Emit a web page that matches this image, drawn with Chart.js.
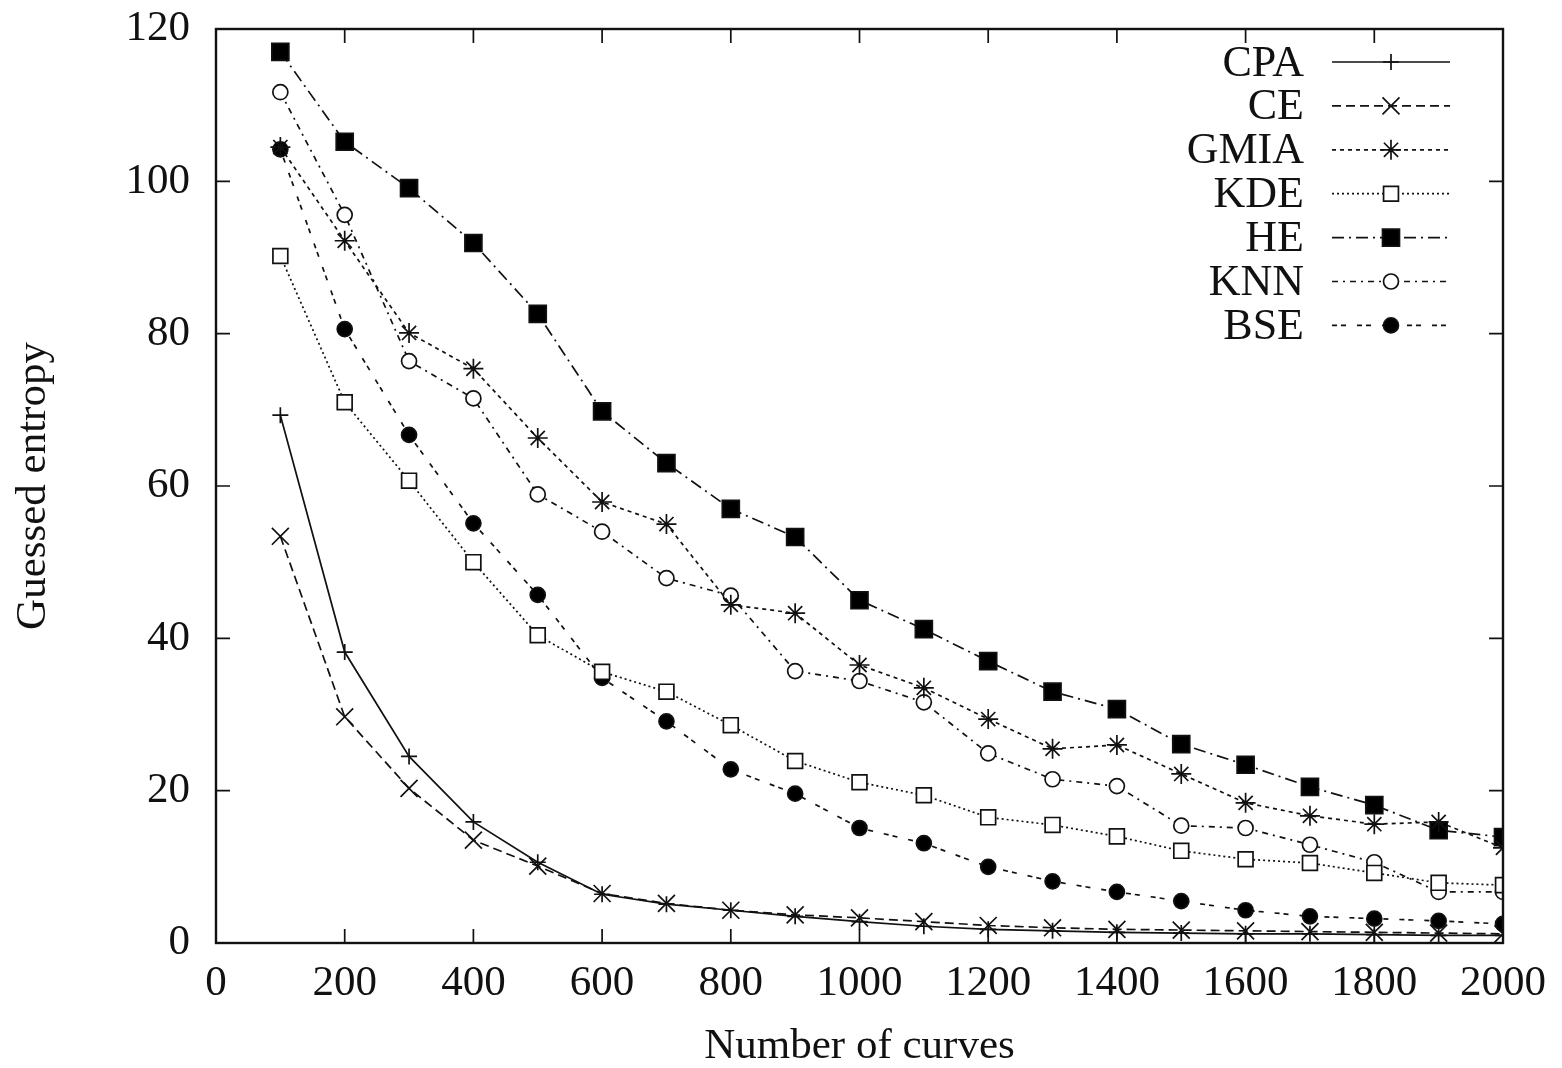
<!DOCTYPE html>
<html>
<head>
<meta charset="utf-8">
<script src="https://cdn.jsdelivr.net/npm/chart.js@4/dist/chart.umd.min.js"></script>
<style>
  html, body { margin: 0; padding: 0; background: #fff; }
  #wrap { width: 1562px; height: 1068px; }
</style>
</head>
<body>
<div id="wrap"><canvas id="chart"></canvas></div>
<script>
// number of curves (x)
var curves = [100, 200, 300, 400, 500, 600, 700, 800, 900, 1000,
              1100, 1200, 1300, 1400, 1500, 1600, 1700, 1800, 1900, 2000];

// guessed entropy per method
var cpa  = [69.3, 38.2, 24.5, 15.9, 10.6, 6.4, 5.1, 4.3, 3.5, 2.8, 2.2, 1.8, 1.6, 1.4, 1.3, 1.2, 1.2, 1.1, 1.0, 1.0];
var ce   = [53.4, 29.7, 20.3, 13.5, 10.1, 6.5, 5.2, 4.3, 3.7, 3.3, 2.8, 2.3, 2.0, 1.8, 1.7, 1.6, 1.5, 1.4, 1.3, 1.2];
var gmia = [104.5, 92.2, 80.1, 75.4, 66.3, 57.9, 55.0, 44.4, 43.3, 36.5, 33.5, 29.4, 25.5, 26.0, 22.2, 18.4, 16.7, 15.6, 15.9, 12.5];
var kde  = [90.2, 71.0, 60.7, 50.0, 40.4, 35.6, 33.0, 28.6, 23.9, 21.1, 19.4, 16.5, 15.5, 14.0, 12.1, 11.0, 10.5, 9.2, 7.9, 7.6];
var he   = [117.0, 105.2, 99.1, 91.9, 82.6, 69.8, 63.0, 57.0, 53.3, 45.0, 41.2, 37.0, 33.0, 30.7, 26.1, 23.4, 20.5, 18.1, 14.8, 13.9];
var knn  = [111.7, 95.6, 76.4, 71.5, 58.9, 54.0, 47.9, 45.6, 35.7, 34.4, 31.6, 24.9, 21.5, 20.6, 15.4, 15.1, 12.9, 10.6, 6.7, 6.7];
var bse  = [104.2, 80.6, 66.7, 55.1, 45.7, 34.8, 29.1, 22.8, 19.6, 15.1, 13.1, 10.0, 8.1, 6.7, 5.5, 4.3, 3.5, 3.2, 2.9, 2.5];

var seriesNames = ['CPA', 'CE', 'GMIA', 'KDE', 'HE', 'KNN', 'BSE'];
var seriesData  = [cpa, ce, gmia, kde, he, knn, bse];

// styling per series (gnuplot-like)
var styles = [
    { dash: [],              point: 'cross',    radius: 8,    fill: '#000' },
    { dash: [9, 5],          point: 'crossRot', radius: 12,   fill: '#000' },
    { dash: [4, 4],          point: 'star',     radius: 10,   fill: '#000' },
    { dash: [2, 3],          point: 'rect',     radius: 10.5, fill: '#fff' },
    { dash: [12, 5, 2, 5],   point: 'rect',     radius: 12,   fill: '#000' },
    { dash: [6, 5, 2, 5],    point: 'circle',   radius: 7.5,  fill: '#fff' },
    { dash: [5, 4, 5, 11],   point: 'circle',   radius: 7.5,  fill: '#000' }
];

var FONT = '"Liberation Serif", "Times New Roman", serif';
var INK = '#111';

var datasets = [];
for (var i = 0; i < seriesNames.length; i++) {
    var pts = [];
    for (var j = 0; j < curves.length; j++) {
        pts.push({ x: curves[j], y: seriesData[i][j] });
    }
    datasets.push({
        label: seriesNames[i],
        data: pts,
        borderColor: INK,
        borderWidth: 1.7,
        borderDash: styles[i].dash,
        pointStyle: styles[i].point,
        pointRadius: styles[i].radius,
        pointBorderWidth: 1.7,
        pointBorderColor: INK,
        pointBackgroundColor: styles[i].fill,
        tension: 0
    });
}

// frame, inward ticks on all four sides
var framePlugin = {
    id: 'frame',
    afterDatasetsDraw: function (chart) {
        var ctx = chart.ctx, a = chart.chartArea;
        var xs = chart.scales.x, ys = chart.scales.y;
        var len = 14;
        ctx.save();
        ctx.strokeStyle = INK;
        ctx.lineWidth = 1.7;
        ctx.setLineDash([]);
        ctx.beginPath();
        xs.ticks.forEach(function (t) {
            var px = xs.getPixelForValue(t.value);
            ctx.moveTo(px, a.bottom); ctx.lineTo(px, a.bottom - len);
            ctx.moveTo(px, a.top);    ctx.lineTo(px, a.top + len);
        });
        ys.ticks.forEach(function (t) {
            var py = ys.getPixelForValue(t.value);
            ctx.moveTo(a.left, py);  ctx.lineTo(a.left + len, py);
            ctx.moveTo(a.right, py); ctx.lineTo(a.right - len, py);
        });
        ctx.stroke();
        ctx.lineWidth = 2.4;
        ctx.strokeRect(a.left, a.top, a.right - a.left, a.bottom - a.top);
        ctx.restore();
    }
};

// gnuplot style key: label on the left, line sample on the right
var keyPlugin = {
    id: 'key',
    afterDatasetsDraw: function (chart) {
        var ctx = chart.ctx, a = chart.chartArea;
        var textRight = a.right - 199;
        var lineStart = a.right - 171, lineEnd = a.right - 53;
        var mid = (lineStart + lineEnd) / 2;
        var y0 = a.top + 33, step = 43.9;
        ctx.save();
        chart.data.datasets.forEach(function (ds, i) {
            var y = y0 + i * step;
            ctx.fillStyle = INK;
            ctx.font = '44px ' + FONT;
            ctx.textAlign = 'right';
            ctx.textBaseline = 'middle';
            ctx.fillText(ds.label, textRight, y + 2);
            ctx.strokeStyle = INK;
            ctx.lineWidth = ds.borderWidth;
            ctx.setLineDash(ds.borderDash);
            ctx.beginPath();
            ctx.moveTo(lineStart, y);
            ctx.lineTo(lineEnd, y);
            ctx.stroke();
            ctx.setLineDash([]);
            ctx.fillStyle = ds.pointBackgroundColor;
            ctx.lineWidth = ds.pointBorderWidth;
            Chart.helpers.drawPoint(ctx, {
                pointStyle: ds.pointStyle,
                radius: ds.pointRadius,
                rotation: 0,
                borderWidth: ds.pointBorderWidth
            }, mid, y);
        });
        ctx.restore();
    }
};

new Chart(document.getElementById('chart'), {
    type: 'line',
    data: { datasets: datasets },
    plugins: [framePlugin, keyPlugin],
    options: {
        responsive: true,
        maintainAspectRatio: false,
        animation: false,
        layout: { padding: { top: 29, right: 59, left: 0, bottom: 0 } },
        plugins: {
            legend: { display: false },
            tooltip: { enabled: false }
        },
        scales: {
            x: {
                type: 'linear',
                min: 0,
                max: 2000,
                grid: { display: false, drawTicks: false },
                border: { display: false },
                ticks: {
                    stepSize: 200,
                    color: INK,
                    padding: 15,
                    maxRotation: 0,
                    font: { family: FONT, size: 43 },
                    callback: function (v) { return String(v); }
                },
                title: {
                    display: true,
                    text: 'Number of curves',
                    color: INK,
                    padding: { top: 0, bottom: 0 },
                    font: { family: FONT, size: 43, lineHeight: 1.0 }
                },
                afterFit: function (scale) {
                    scale.height = 125;
                    scale.paddingLeft = 0;
                    scale.paddingRight = 0;
                }
            },
            y: {
                min: 0,
                max: 120,
                grid: { display: false, drawTicks: false },
                border: { display: false },
                ticks: {
                    stepSize: 20,
                    color: INK,
                    padding: 26,
                    font: { family: FONT, size: 43 }
                },
                title: {
                    display: true,
                    text: 'Guessed entropy',
                    color: INK,
                    padding: { top: 12, bottom: 0 },
                    font: { family: FONT, size: 43, lineHeight: 1.0 }
                },
                afterFit: function (scale) {
                    scale.width = 216;
                    scale.paddingTop = 0;
                    scale.paddingBottom = 0;
                }
            }
        }
    }
});
</script>
</body>
</html>
